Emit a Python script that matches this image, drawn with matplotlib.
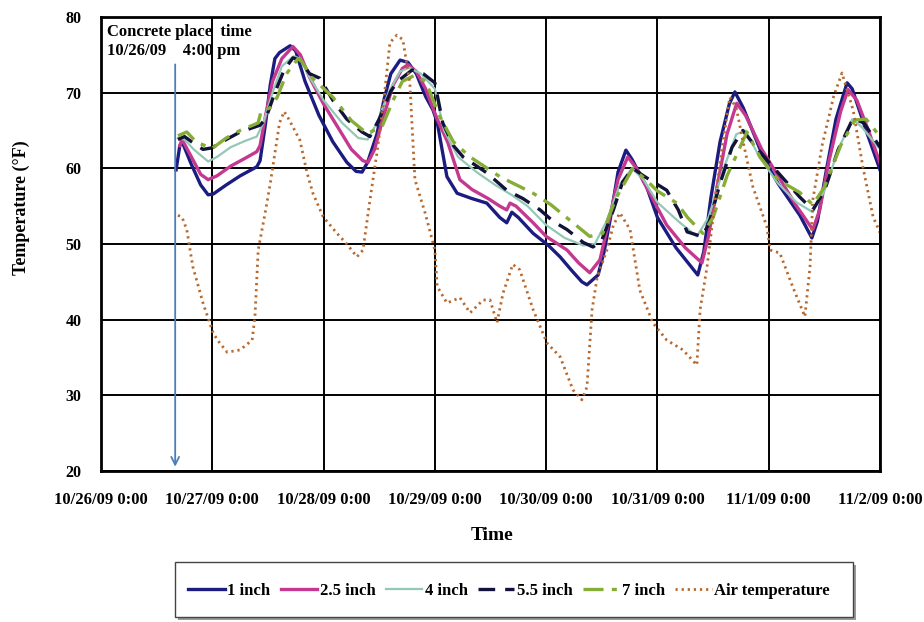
import matplotlib.pyplot as plt
from matplotlib.patches import Rectangle


# hours after 10/26/09 0:00, temperature in deg F
hours_1in = [16.2, 17.0, 17.5, 19.5, 21.5, 23.1, 24.2, 27.0, 30.0, 33.6, 34.3, 35.5, 36.5, 37.5, 38.5,
             40.8, 42.0, 44.0, 47.0, 50.0, 53.0, 55.0, 56.3, 57.5, 59.5, 61.0, 62.5, 64.5, 66.2,
             68.0, 70.0, 71.6, 72.5, 74.6, 76.8, 80.0, 83.2, 86.0, 87.5, 88.6, 90.0, 93.2, 96.5,
             99.0, 101.5, 103.7, 104.8, 107.2, 108.5, 109.8, 111.5, 113.2, 114.5, 117.7, 120.0,
             124.0, 128.7, 130.0, 131.5, 133.5, 135.5, 136.7, 138.5, 142.8, 146.0, 150.7, 153.3,
             154.5, 156.5, 158.5, 160.9, 162.0, 165.0, 168.0]
temp_1in = [59.8, 63.0, 63.5, 60.5, 57.8, 56.5, 56.6, 57.8, 59.0, 60.2, 61.0, 66.0, 71.0, 74.5, 75.3,
            76.2, 75.5, 71.5, 67.0, 63.5, 60.8, 59.6, 59.5, 60.8, 64.5, 69.0, 72.5, 74.3, 74.0,
            72.5, 69.5, 67.7, 66.1, 58.9, 56.7, 56.0, 55.4, 53.5, 52.8, 54.2, 53.5, 51.4, 49.8,
            48.3, 46.5, 45.0, 44.6, 45.9, 49.0, 53.2, 59.5, 62.4, 61.2, 57.5, 53.5,
            49.5, 45.9, 49.0, 56.0, 63.5, 68.5, 70.1, 68.0, 61.5, 58.0, 53.8, 50.8,
            53.0, 60.0, 66.5, 71.3, 70.5, 65.0, 59.8]

hours_25in = [17.0, 17.5, 19.5, 21.5, 23.1, 25.0, 28.0, 31.0, 33.6, 34.3, 35.5, 37.0, 39.0, 41.4,
              43.0, 45.0, 48.0, 51.0, 54.0, 56.5, 57.6, 59.0, 61.0, 63.0, 65.0, 66.2, 68.0, 70.0,
              72.5, 74.8, 77.4, 80.0, 83.5, 86.0, 87.5, 88.2, 89.5, 93.2, 96.0, 100.5, 103.0,
              105.4, 107.6, 109.5, 111.5, 113.6, 115.5, 118.5, 122.0, 126.0, 129.6, 131.0, 133.0,
              135.0, 137.1, 139.0, 142.5, 146.0, 150.0, 153.5, 155.0, 157.0, 159.5, 161.1, 163.0,
              165.5, 168.0]
temp_25in = [63.0, 63.8, 61.5, 59.2, 58.5, 59.0, 60.3, 61.3, 62.2, 63.0, 67.0, 71.5, 74.5, 76.1,
             75.0, 72.0, 68.5, 65.5, 62.5, 61.0, 60.8, 62.5, 67.0, 71.0, 73.2, 73.7, 72.8, 70.5,
             66.5, 63.4, 58.5, 57.2, 56.0, 55.0, 54.5, 55.4, 55.0, 52.8, 51.0, 49.2, 47.5,
             46.2, 47.9, 53.0, 58.5, 61.5, 60.0, 56.5, 52.5, 49.5, 47.5, 51.0, 58.0,
             64.5, 68.6, 67.0, 62.5, 59.0, 55.0, 51.9, 54.5, 61.0, 67.5, 70.4, 69.0,
             65.0, 60.7]

hours_4in = [16.6, 18.0, 20.0, 23.1, 25.0, 28.0, 31.0, 33.6, 35.0, 37.0, 39.0, 41.5, 43.0, 45.0,
             48.0, 52.0, 55.5, 57.5, 59.5, 62.0, 64.5, 66.5, 69.0, 72.0, 74.0, 77.0, 81.0, 85.0,
             88.5, 92.0, 96.0, 100.0, 104.0, 106.5, 109.0, 112.0, 114.5, 117.0, 120.0, 124.5,
             128.5, 131.0, 134.0, 137.0, 139.0, 142.0, 146.0, 150.0, 153.5, 156.0, 159.0, 162.0,
             164.0, 168.0]
temp_4in = [64.0, 63.8, 62.5, 60.9, 61.5, 62.8, 63.6, 64.2, 66.0, 70.0, 73.5, 74.8, 74.5, 72.0,
            69.0, 66.0, 64.0, 63.8, 66.0, 70.0, 72.8, 73.3, 72.5, 70.5, 65.0, 61.5, 59.5, 57.8,
            56.5, 55.0, 52.5, 50.8, 49.8, 50.0, 53.0, 58.0, 60.0, 58.5, 55.5, 53.0,
            51.0, 53.5, 59.5, 64.5, 65.0, 61.5, 58.0, 55.5, 54.2, 57.0, 62.5, 66.5,
            65.5, 62.5]

hours_55in = [16.6, 18.0, 20.0, 22.0, 23.9, 27.0, 30.0, 34.3, 35.5, 37.5, 39.5, 41.4, 42.9, 45.0,
              47.2, 50.0, 53.0, 56.3, 58.0, 60.0, 62.5, 64.0, 67.1, 69.5, 72.0, 73.7, 76.0, 78.1,
              83.2, 87.5, 91.0, 94.7, 97.5, 100.5, 104.0, 106.1, 108.0, 110.5, 112.5, 114.7,
              117.0, 122.0, 124.5, 126.4, 129.5, 131.0, 133.5, 136.1, 138.4, 141.0, 144.9, 150.7,
              153.5, 156.0, 159.0, 162.2, 164.5, 168.0]
temp_55in = [63.8, 64.2, 63.3, 62.5, 62.7, 63.8, 64.8, 65.7, 66.5, 70.0, 73.0, 74.6, 74.3, 72.5,
             71.9, 69.0, 66.5, 64.8, 64.2, 66.5, 70.2, 71.5, 73.0, 72.5, 71.3, 66.0, 63.0, 61.5,
             59.4, 57.1, 56.0, 54.5, 53.0, 51.9, 50.2, 49.6, 50.5, 54.5, 58.2, 60.0,
             59.0, 57.1, 54.5, 51.6, 51.0, 52.5, 58.0, 62.8, 65.0, 63.0, 60.2, 56.2,
             54.5, 57.0, 62.5, 66.6, 66.0, 62.8]

hours_7in = [16.6, 18.5, 20.5, 23.9, 27.0, 30.0, 33.9, 34.5, 36.5, 38.0, 40.0, 42.5, 43.3, 45.5,
             50.0, 54.0, 57.4, 60.6, 63.0, 65.0, 67.7, 70.0, 73.1, 76.0, 79.6, 86.0, 93.2, 97.0,
             101.8, 105.4, 108.2, 111.0, 114.7, 117.5, 120.0, 124.2, 126.5, 129.8, 132.0, 135.0,
             139.3, 142.1, 146.0, 150.7, 153.5, 156.0, 159.5, 162.6, 165.0, 168.0]
temp_7in = [64.3, 64.8, 63.5, 62.6, 64.0, 65.0, 66.0, 67.5, 68.0, 69.4, 72.5, 74.5, 74.1, 72.0,
            69.4, 66.3, 64.6, 65.5, 69.0, 71.5, 72.3, 71.5, 66.8, 63.5, 61.5, 58.9, 56.7, 55.2,
            52.8, 51.0, 51.4, 56.0, 60.0, 58.5, 57.0, 55.4, 53.5, 51.4, 53.5, 59.0,
            64.8, 61.5, 58.5, 56.8, 55.2, 57.5, 63.0, 66.4, 66.5, 64.2]

hours_air = [16.6, 17.5, 18.5, 19.8, 22.0, 24.2, 25.5, 27.2, 30.0, 32.6, 33.2, 33.9, 35.4, 36.5,
             37.5, 38.5, 39.5, 40.5, 42.9, 44.4, 45.7, 47.9, 50.9, 53.0, 55.2, 56.5, 58.0, 59.5,
             61.0, 62.3, 63.8, 65.1, 66.6, 67.7, 69.9, 72.0, 72.5, 74.6, 77.4, 79.6, 82.4, 83.9,
             85.4, 86.7, 88.8, 90.3, 93.2, 96.2, 99.0, 101.8, 103.7, 104.8, 105.9, 107.0, 109.1,
             110.5, 111.9, 114.1, 116.2, 119.0, 122.0, 125.5, 128.5, 129.2, 130.7, 132.5, 134.0,
             135.6, 137.0, 138.4, 140.6, 143.6, 144.3, 146.4, 149.2, 151.8, 152.9, 153.5, 155.5,
             158.0, 159.8, 162.2, 164.3, 166.5, 168.0]
temp_air = [53.8, 53.5, 51.9, 47.0, 42.2, 38.2, 37.0, 35.7, 36.0, 37.3, 40.4, 49.2, 54.1, 58.0,
            62.0, 66.0, 67.5, 66.5, 63.7, 59.5, 56.7, 53.6, 51.4, 50.0, 48.3, 49.2, 55.8, 62.0,
            69.0, 76.6, 77.6, 77.0, 71.3, 58.5, 54.1, 49.2, 44.4, 42.2, 42.9, 40.9, 42.6, 42.6,
            39.6, 43.5, 47.3, 46.6, 41.3, 36.9, 35.1, 30.7, 29.4, 31.1, 41.3, 45.6, 49.2,
            52.5, 54.1, 51.9, 43.9, 39.6, 37.3, 36.0, 34.0, 41.3, 47.0, 56.0, 63.0,
            69.4, 68.0, 63.7, 57.5, 52.3, 49.2, 48.8, 44.3, 40.4, 47.0, 55.8, 63.0,
            69.5, 72.6, 67.7, 60.2, 53.6, 51.5]

tick_hours = [0, 24, 48, 72, 96, 120, 144, 168]
tick_labels = ["10/26/09 0:00", "10/27/09 0:00", "10/28/09 0:00", "10/29/09 0:00",
               "10/30/09 0:00", "10/31/09 0:00", "11/1/09 0:00", "11/2/09 0:00"]

placed_hour = 16


plt.rcParams["font.family"] = ["Liberation Serif", "DejaVu Serif"]
plt.rcParams["font.weight"] = "bold"

fig = plt.figure(figsize=(9.24, 6.22), dpi=100)
ax = fig.add_axes([0.1093, 0.2428, 0.8431, 0.7299])

ax.grid(True, color="black", linewidth=1.4)
ax.set_axisbelow(True)

ax.annotate(
    "",
    xy=(placed_hour, 20.2),
    xytext=(placed_hour, 74.1),
    arrowprops=dict(arrowstyle="->", color="#4a7ebb", lw=1.3, mutation_scale=14),
)

ax.plot(hours_1in, temp_1in, color="#1c1c80", lw=2.4, label="1 inch")
ax.plot(hours_25in, temp_25in, color="#c4398f", lw=2.4, label="2.5 inch")
ax.plot(hours_4in, temp_4in, color="#93c8b8", lw=1.6, label="4 inch")
ax.plot(hours_55in, temp_55in, color="#12123a", lw=2.4, dashes=(5, 3), label="5.5 inch")
ax.plot(hours_7in, temp_7in, color="#86ad35", lw=2.4, dashes=(6, 2.5, 1.5, 2.5), label="7 inch")
ax.plot(hours_air, temp_air, color="#b8692e", lw=2.0, dashes=(0.8, 1.4), label="Air temperature")

ax.set_xlim(0, 168)
ax.set_ylim(20, 80)
ax.set_xticks(tick_hours)
ax.set_xticklabels(tick_labels, fontsize=12)
ax.set_yticks(range(20, 81, 10))
ax.tick_params(axis="both", length=0)
ax.tick_params(axis="y", labelsize=11.5, pad=14)
ax.tick_params(axis="x", pad=15)

for spine in ax.spines.values():
    spine.set_linewidth(2)

fig.text(492 / 924, 1 - 535 / 622, "Time", fontsize=14, fontweight="bold",
         ha="center", va="center")
fig.text(21 / 924, 1 - 208 / 622, "Temperature (°F)", fontsize=13, fontweight="bold",
         rotation=90, ha="center", va="center")

ax.text(1.3, 78.0, "Concrete place  time", fontsize=12, fontweight="bold", va="center")
ax.text(1.3, 75.5, "10/26/09    4:00 pm", fontsize=12, fontweight="bold", va="center")

# legend box with a drop shadow, drawn in figure coordinates
fig.patches.append(Rectangle((178 / 924, 1 - 620 / 622), 678 / 924, 55 / 622,
                             transform=fig.transFigure, facecolor="#9a9a9a",
                             edgecolor="none", zorder=0))
fig.patches.append(Rectangle((175 / 924, 1 - 617 / 622), 678 / 924, 55 / 622,
                             transform=fig.transFigure, facecolor="white",
                             edgecolor="#444444", linewidth=1, zorder=1))

handles, labels = ax.get_legend_handles_labels()
fig.legend(
    handles,
    labels,
    loc="center",
    bbox_to_anchor=(509 / 924, 1 - 591 / 622),
    ncol=6,
    frameon=False,
    fontsize=12,
    handlelength=2.2,
    handletextpad=0.15,
    columnspacing=0.6,
)

plt.savefig("out.png", dpi=100)
plt.close()
